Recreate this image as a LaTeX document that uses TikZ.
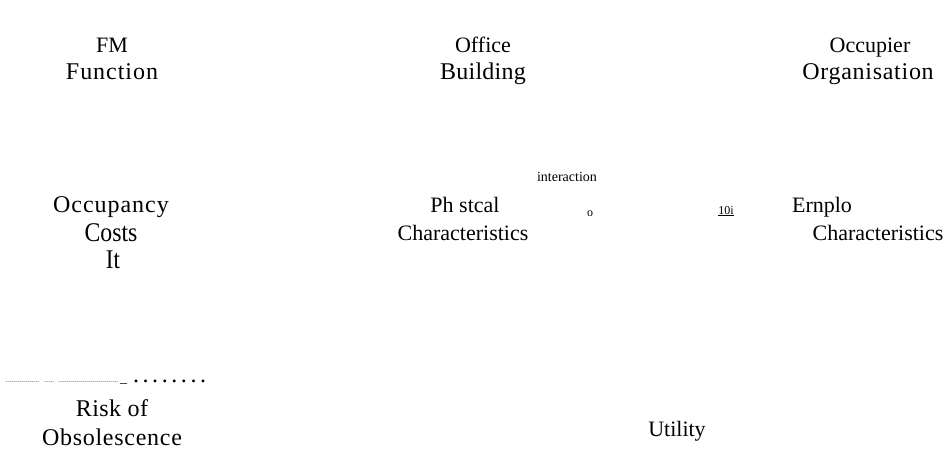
\documentclass[tikz,border=0pt]{standalone}
\usepackage{fontspec}
\setmainfont{Liberation Serif}
\newcommand{\fs}[1]{\fontsize{#1}{#1}\selectfont}
\newcommand{\ls}[1]{\addfontfeature{LetterSpace=#1}}
\newcommand{\dotrun}[2]{\hbox to #1{\leaders\hbox to #2{\hss.\hss}\hfill}}
\begin{document}
\begin{tikzpicture}[x=1pt,y=1pt,
  lbl/.style={inner sep=0pt,anchor=base,font=\fs{22}},
  wide/.style={inner sep=0pt,anchor=base,font=\fs{24}\ls{#1}},
  small/.style={inner sep=0pt,anchor=base,font=\fs{14}},
  tiny/.style={inner sep=0pt,anchor=base,font=\fs{12}}]
\useasboundingbox (0,0) rectangle (948,-466);
% top row
\node[lbl] (fm1) at (112,-52) {FM};
\node[wide=4] (fm2) at (112,-79) {Function};
\node[lbl] (ob1) at (483,-52) {Office};
\node[wide=1] (ob2) at (483,-79) {Building};
\node[lbl] (oo1) at (870,-52) {Occupier};
\node[wide=3] (oo2) at (868,-79) {Organisation};
% middle row
\node[small] (inter) at (567,-181) {interaction};
\node[wide=4] (oc1) at (111,-212) {Occupancy};
\node[lbl] (oc2) at (111,-241) {\scalebox{0.88}[1]{\fs{27}Costs}};
\node[lbl] (oc3) at (113,-268) {\scalebox{0.85}[1]{\fs{27}It}};
\node[lbl] (pc1) at (465,-212) {Ph stcal};
\node[lbl] (pc2) at (463,-240) {Characteristics};
\node[tiny] (o) at (590,-216) {o};
\node[tiny] (ten) at (726,-214) {\underline{10i}};
\node[lbl] (ec1) at (822,-212) {Ernplo};
\node[lbl] (ec2) at (878,-240) {Characteristics};
% bottom row
\node[inner sep=0pt,anchor=base west] (dots) at (5,-382)
  {\fs{7}\dotrun{35pt}{2pt}\hspace{4pt}\dotrun{11pt}{2pt}\hspace{3pt}\dotrun{60pt}{2pt}\hspace{2pt}{\fs{14}\_}\hspace{4pt}{\fs{24}\dotrun{82pt}{9.6pt}}};
\node[wide=2] (ro1) at (112,-416) {Risk of};
\node[wide=3] (ro2) at (112,-445) {Obsolescence};
\node[lbl] (ut) at (677,-436) {Utility};
\end{tikzpicture}
\end{document}
